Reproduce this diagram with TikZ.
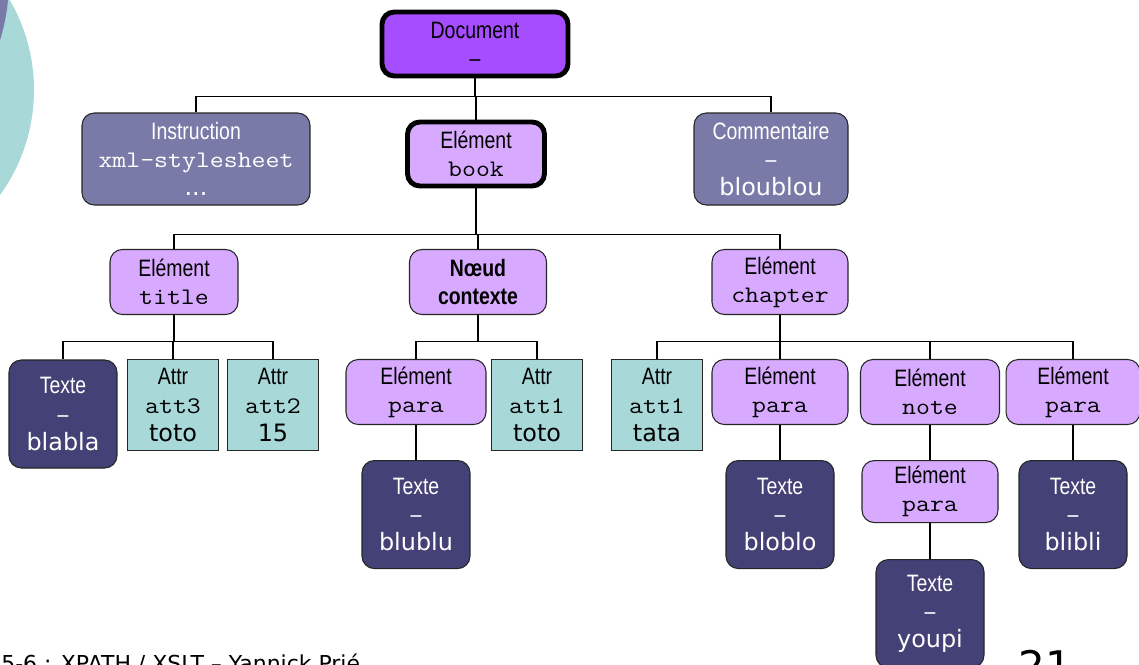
\documentclass[tikz,border=0pt]{standalone}
\usepackage{fontspec}
\setmainfont{Liberation Sans}
\newfontfamily\narrowfont[FakeStretch=0.82]{Liberation Sans}
\newfontfamily\monofont[FakeStretch=1.14]{Latin Modern Mono}
\newfontfamily\verdfont{DejaVu Sans}
\usetikzlibrary{positioning}

\definecolor{docviolet}{RGB}{166,77,255}
\definecolor{elemlilac}{RGB}{216,170,255}
\definecolor{instrgray}{RGB}{122,122,168}
\definecolor{textnavy}{RGB}{67,65,117}
\definecolor{attrteal}{RGB}{168,216,216}

\newcommand\xcode[1]{{\monofont #1}}
\newcommand\valeur[1]{{\verdfont\fontsize{13.6}{16}\selectfont #1}}

\begin{document}
\begin{tikzpicture}[x=0.02cm, y=-0.02cm, node distance=0.7cm,
    box/.style={draw=black!85, line width=0.6pt, rounded corners=7pt, align=center, inner sep=0pt,
      font=\fontsize{13.5}{16}\selectfont\narrowfont},
    elem/.style={box, fill=elemlilac, minimum width=2.72cm, minimum height=1.3cm},
    texte/.style={box, fill=textnavy, text=white, minimum width=2.16cm, minimum height=2.16cm},
    attr/.style={box, rounded corners=0pt, fill=attrteal, minimum width=1.82cm, minimum height=1.82cm},
    misc/.style={box, fill=instrgray, text=white, minimum height=1.84cm},
    root/.style={line width=2.8pt, draw=black},
    link/.style={draw, line width=0.6pt}]
        \useasboundingbox (0,0) rectangle (1139,664);
        \clip (0,0) rectangle (1139,664);
        \fill[white] (0,0) rectangle (1139,664);

        % Slide decoration
        \fill[attrteal] (-145,90) circle (179);
        \fill[instrgray] (-196,-20) circle (205);

        % Root and its children
        \node[box, root, fill=docviolet, minimum width=3.72cm, minimum height=1.28cm] (doc) at (475,44) {Document\\–};
        \node[misc, minimum width=4.56cm] (instr) at (196,159) {Instruction\\\xcode{xml-stylesheet}\\\valeur{...}};
        \node[elem, root, minimum width=2.74cm, minimum height=1.28cm] (book) at (476,154) {Elément\\\xcode{book}};
        \node[misc, minimum width=3.08cm] (comm) at (771,159) {Commentaire\\–\\\valeur{bloublou}};

        % Children of book
        \node[elem, minimum width=2.56cm] (title) at (174,282) {Elément\\\xcode{title}};
        \node[elem, minimum width=2.74cm, font=\fontsize{13.5}{16}\selectfont\narrowfont\bfseries] (ctx) at (478,282) {Nœud\\contexte};
        \node[elem] (chap) at (780,282) {Elément\\\xcode{chapter}};

        % Children of title
        \node[texte] (blabla) at (63,414) {Texte\\–\\\valeur{blabla}};
        \node[attr] (att3) at (173,405) {Attr\\\xcode{att3}\\\valeur{toto}};
        \node[attr] (att2) at (273,405) {Attr\\\xcode{att2}\\\valeur{15}};

        % Children of the context node
        \node[elem, minimum width=2.8cm] (para1) at (416,392) {Elément\\\xcode{para}};
        \node[attr] (att1) at (537,405) {Attr\\\xcode{att1}\\\valeur{toto}};
        \node[texte] (blublu) [below=of para1] {Texte\\–\\\valeur{blublu}};

        % Children of chapter
        \node[attr] (tata) at (657,405) {Attr\\\xcode{att1}\\\valeur{tata}};
        \node[elem] (para2) at (780,392) {Elément\\\xcode{para}};
        \node[elem, minimum width=2.78cm] (note) at (930,392) {Elément\\\xcode{note}};
        \node[elem, minimum width=2.68cm] (para3) at (1073,392) {Elément\\\xcode{para}};
        \node[texte] (bloblo) [below=of para2] {Texte\\–\\\valeur{bloblo}};
        \node[elem, minimum height=1.24cm] (para4) [below=of note] {Elément\\\xcode{para}};
        \node[texte] (youpi) [below=0.72cm of para4] {Texte\\–\\\valeur{youpi}};
        \node[texte] (blibli) [below=of para3] {Texte\\–\\\valeur{blibli}};

        % Tree links
        \draw[link] (doc.south) -- ++(0,18) coordinate (bdoc);
        \draw[link] (bdoc) -| (instr.north) (bdoc) -| (book.north) (bdoc) -| (comm.north);
        \draw[link] (book.south) -- ++(0,46) coordinate (bbook);
        \draw[link] (bbook) -| (title.north) (bbook) -| (ctx.north) (bbook) -| (chap.north);
        \draw[link] (title.south) -- ++(0,26) coordinate (btitle);
        \draw[link] (btitle) -| (blabla.north) (btitle) -| (att3.north) (btitle) -| (att2.north);
        \draw[link] (ctx.south) -- ++(0,26) coordinate (bctx);
        \draw[link] (bctx) -| (para1.north) (bctx) -| (att1.north);
        \draw[link] (chap.south) -- ++(0,26) coordinate (bchap);
        \draw[link] (bchap) -| (tata.north) (bchap) -| (para2.north) (bchap) -| (note.north) (bchap) -| (para3.north);
        \draw[link] (para1) -- (blublu) (para2) -- (bloblo) (note) -- (para4) (para4) -- (youpi) (para3) -- (blibli);

        % Footer
        \node[anchor=base west, inner sep=0pt, font=\verdfont\fontsize{12.5}{15}\selectfont] (footer) at (1,671) {5-6 : XPATH / XSLT – Yannick Prié};
        \node[anchor=base west, inner sep=0pt, font=\verdfont\fontsize{24}{28}\selectfont] (pagenum) at (1018,681) {21};
    \end{tikzpicture}
\end{document}
